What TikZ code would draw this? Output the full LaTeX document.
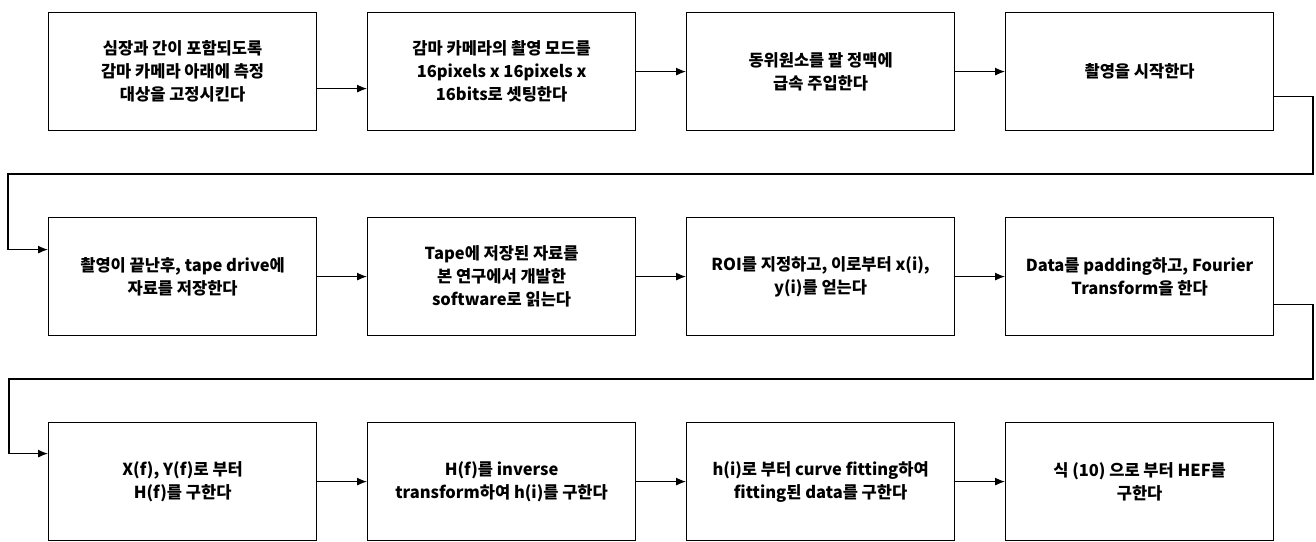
\documentclass[tikz,border=0pt]{standalone}
\usepackage{fontspec}
\setmainfont{Noto Sans CJK KR}
\usetikzlibrary{arrows.meta}
\begin{document}
\begin{tikzpicture}[x=1pt,y=-1pt,
  box/.style={draw, line width=1.2pt, minimum width=268pt, minimum height=118pt,
    anchor=north west, align=center, inner sep=0pt,
    font=\fontsize{16.5}{23}\selectfont\bfseries},
  link/.style={line width=1.2pt, -{Latex[length=10pt,width=8pt]}}]
\useasboundingbox (0,0) rectangle (1316,541);
% row 1
\node[box] (b1) at (48,12)   {심장과 간이 포함되도록\\감마 카메라 아래에 측정\\대상을 고정시킨다};
\node[box] (b2) at (367,12)  {감마 카메라의 촬영 모드를\\16pixels x 16pixels x\\16bits로 셋팅한다};
\node[box] (b3) at (686,12)  {동위원소를 팔 정맥에\\급속 주입한다};
\node[box] (b4) at (1005,12) {촬영을 시작한다};
% row 2
\node[box] (b5) at (48,217)   {촬영이 끝난후, tape drive에\\자료를 저장한다};
\node[box] (b6) at (367,217)  {Tape에 저장된 자료를\\본 연구에서 개발한\\software로 읽는다};
\node[box] (b7) at (686,217)  {ROI를 지정하고, 이로부터 x(i),\\y(i)를 얻는다};
\node[box] (b8) at (1005,217) {Data를 padding하고, Fourier\\Transform을 한다};
% row 3
\node[box] (b9)  at (48,422)   {X(f), Y(f)로 부터\\H(f)를 구한다};
\node[box] (b10) at (367,422)  {H(f)를 inverse\\transform하여 h(i)를 구한다};
\node[box] (b11) at (686,422)  {h(i)로 부터 curve fitting하여\\fitting된 data를 구한다};
\node[box] (b12) at (1005,422) {식 (10) 으로 부터 HEF를\\구한다};
% corner points of the wrap-around connectors
\coordinate (r1) at (1313,174);
\coordinate (l1) at (8,174);
\coordinate (r2) at (1313,379);
\coordinate (l2) at (9,379);
% connectors
\draw[link] ([yshift=-17pt]b1.east) -- ([yshift=-17pt]b2.west);
\draw[link] (b2) -- (b3);
\draw[link] (b3) -- (b4);
\draw[link] ([yshift=-25pt]b4.east) -| (r1) -- (l1) |- ([yshift=27pt]b5.west);
\draw[link] (b5) -- (b6);
\draw[link] (b6) -- (b7);
\draw[link] (b7) -- (b8);
\draw[link] ([yshift=-28pt]b8.east) -| (r2) -- (l2) |- ([yshift=28pt]b9.west);
\draw[link] (b9) -- (b10);
\draw[link] (b10) -- (b11);
\draw[link] (b11) -- (b12);
\end{tikzpicture}
\end{document}
